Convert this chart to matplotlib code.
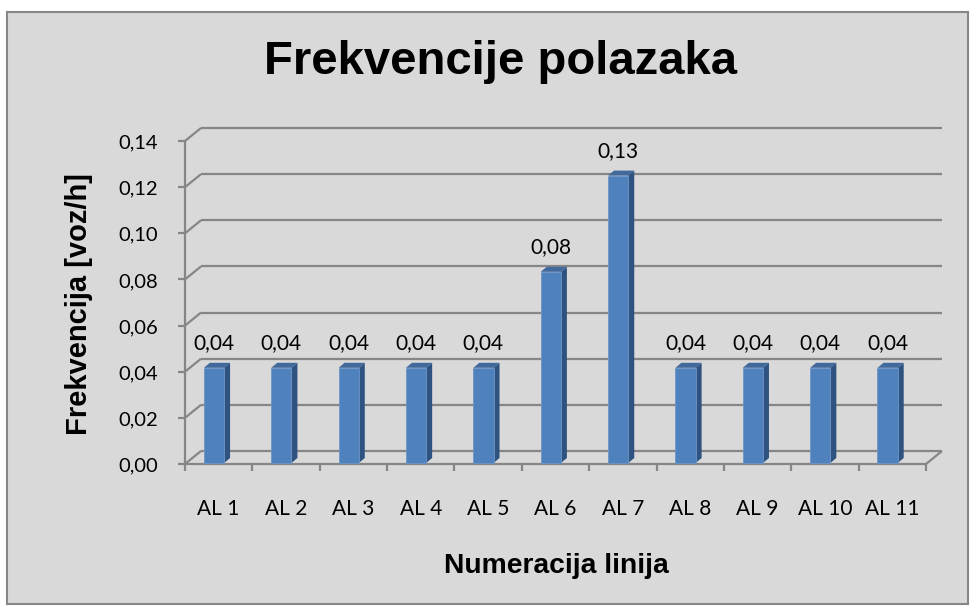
import matplotlib
matplotlib.use("Agg")
from matplotlib import pyplot as plt
from matplotlib.patches import Rectangle, Polygon
from decimal import Decimal, ROUND_HALF_UP

# data
lines = ["AL 1", "AL 2", "AL 3", "AL 4", "AL 5", "AL 6", "AL 7",
         "AL 8", "AL 9", "AL 10", "AL 11"]
freq = [0.0417, 0.0417, 0.0417, 0.0417, 0.0417, 0.0833, 0.125,
        0.0417, 0.0417, 0.0417, 0.0417]
yticks = [0.00, 0.02, 0.04, 0.06, 0.08, 0.10, 0.12, 0.14]

W, H = 977, 612
grid_col = "#868686"
front_col = "#4F81BD"
side_col = "#2F5380"
top_col = "#41699C"
body_font = ["Lato", "DejaVu Sans"]
bold_font = ["Liberation Sans", "DejaVu Sans"]


def fmt(v):
    d = Decimal(str(v)).quantize(Decimal("0.01"), rounding=ROUND_HALF_UP)
    return str(d).replace(".", ",")


fig = plt.figure(figsize=(W / 100, H / 100), dpi=100)
fig.patch.set_facecolor("white")
fig.patches.append(Rectangle((7 / W, 1 - 604 / H), 961 / W, 592 / H,
                             transform=fig.transFigure, facecolor="#D9D9D9",
                             edgecolor=grid_col, linewidth=1.5, zorder=-10))

# front axis box in pixels: x 185..926, y 464..141
ax = fig.add_axes([185 / W, 1 - 464 / H, 741 / W, 323 / H])
ax.set_xlim(0, len(lines))
ax.set_ylim(0, 0.14)
ax.axis("off")

ux = len(lines) / 741.0   # data units per pixel
uy = 0.14 / 323.0
dx, dy = 16 * ux, 13 * uy  # depth offset of the back wall

kw = dict(color=grid_col, lw=1.6, clip_on=False, solid_capstyle="butt")

# back wall gridlines + diagonal links from the front axis
for v in yticks:
    ax.plot([dx, len(lines) + dx], [v + dy, v + dy], zorder=1, **kw)
    ax.plot([0, dx], [v, v + dy], zorder=1, **kw)
    ax.plot([-7 * ux, 0], [v, v], zorder=1, **kw)
    ax.text(-27 * ux, v - 2 * uy, fmt(v), ha="right", va="center",
            fontsize=14.5, family=body_font)

# front axes
ax.plot([0, 0], [0, 0.14], zorder=1, **kw)
ax.plot([0, len(lines)], [0, 0], zorder=1, **kw)
ax.plot([len(lines), len(lines) + dx], [0, dy], zorder=1, **kw)
for i in range(len(lines) + 1):
    ax.plot([i, i], [0, -7 * uy], zorder=1, **kw)

# 3D-looking bars
bx0, bx1 = 0.28, 0.58
sx, sy = 6 * ux, 5 * uy
for i, (name, v) in enumerate(zip(lines, freq)):
    x0, x1 = i + bx0, i + bx1
    y0 = 1 * uy
    ax.add_patch(Polygon([(x1, y0), (x1 + sx, y0 + sy), (x1 + sx, v + sy), (x1, v)],
                         closed=True, facecolor=side_col, edgecolor="none",
                         zorder=3, clip_on=False))
    ax.add_patch(Polygon([(x0, v), (x0 + sx, v + sy), (x1 + sx, v + sy), (x1, v)],
                         closed=True, facecolor=top_col, edgecolor="none",
                         zorder=3, clip_on=False))
    ax.add_patch(Rectangle((x0, y0), x1 - x0, v - y0, facecolor=front_col,
                           edgecolor="#6D95C8", linewidth=0.6, zorder=4,
                           clip_on=False))
    ax.text(i + (bx0 + bx1) / 2, v + 25 * uy, fmt(v), ha="center",
            va="center", fontsize=15, family=body_font)
    ax.text(i + 0.5, -45 * uy, name, ha="center", va="center", fontsize=15,
            family=body_font)

fig.text(500 / W, 1 - 62 / H, "Frekvencije polazaka", ha="center",
         va="center", fontsize=34, fontweight="bold", family=bold_font)
fig.text(79 / W, 1 - 304 / H, "Frekvencija [voz/h]", ha="center",
         va="center", rotation=90, fontsize=21, fontweight="bold",
         family=bold_font)
fig.text(556 / W, 1 - 573 / H, "Numeracija linija", ha="center",
         va="baseline", fontsize=20.3, fontweight="bold", family=bold_font)

fig.savefig("out.png", dpi=100)
